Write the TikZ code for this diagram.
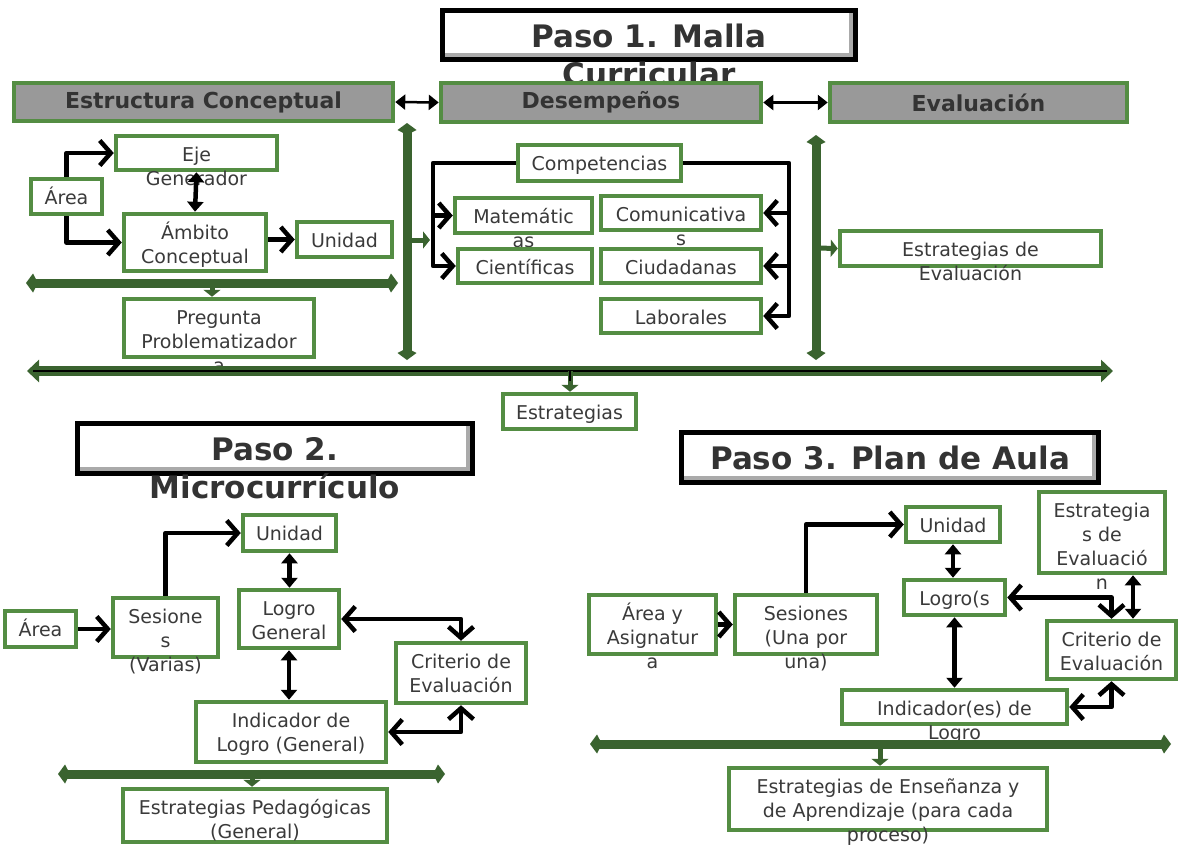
\documentclass[tikz,border=0pt]{standalone}
\usepackage{fontspec}
\setmainfont{DejaVu Sans}
\usetikzlibrary{arrows.meta,calc}
\definecolor{bgreen}{RGB}{84,141,67}
\definecolor{agreen}{RGB}{58,99,47}
\definecolor{hgray}{RGB}{153,153,153}
\definecolor{tgray}{RGB}{58,58,58}
\definecolor{bevel}{RGB}{170,170,170}
\tikzset{
  gbox/.style={draw=bgreen, line width=4.5pt, fill=white, inner sep=0pt},
  hbox/.style={draw=bgreen, line width=4.5pt, fill=hgray, inner sep=0pt,
    font=\fontsize{22}{26}\selectfont\bfseries, text=black!80},
  gtxt/.style={inner sep=0pt, align=center, text=tgray, font=\fontsize{19}{24}\selectfont},
  ttxt/.style={inner sep=0pt, align=center, text=black!80, font=\fontsize{31}{38}\selectfont\bfseries},
  tbox/.style={draw=black, line width=5pt, fill=white, inner sep=0pt},
  chev/.tip={Straight Barb[length=11pt,width=25pt]},
  tri/.tip={Triangle[length=10pt,width=16pt]},
  kt/.tip={Kite[length=12pt,width=19pt,inset=5pt]},
  blk/.style={draw=black, line width=4.5pt, line join=round},
  hline/.style={draw=black, line width=2.5pt, {Triangle[length=10pt,width=15pt]}-{Triangle[length=10pt,width=15pt]}},
  gline/.style={draw=agreen, line width=9pt, kt-kt},
  gbranch/.style={draw=agreen, line width=5pt, -{Triangle[length=7pt,width=17pt]}},
}
\newcommand{\gbx}[6]{%
  \node[gbox, minimum width={#4-#2-4}, minimum height={#5-#3-4}] (#1) at ({(#2+#4)/2},{(#3+#5)/2}) {};
  \node[gtxt, anchor=north] (#1-t) at ({(#2+#4)/2},{#3+10}) {\strut #6};
}
\newcommand{\hbx}[6]{%
  \node[hbox, minimum width={#4-#2-4}, minimum height={#5-#3-4}] (#1) at ({(#2+#4)/2},{(#3+#5)/2}) {#6};
}
\newcommand{\tbx}[6]{%
  \node[tbox, minimum width={#4-#2-5}, minimum height={#5-#3-5}] (#1) at ({(#2+#4)/2},{(#3+#5)/2}) {};
  \fill[bevel] (#2+5,#5-9) rectangle (#4-5,#5-5);
  \fill[bevel] (#4-9,#3+5) rectangle (#4-5,#5-5);
  \node[ttxt, anchor=north] (#1-t) at ({(#2+#4)/2},{#3+12.4}) {\strut #6};
}
\begin{document}
\begin{tikzpicture}[x=1pt, y=-1pt]
\useasboundingbox (0,0) rectangle (1180,846);
\fill[white] (0,0) rectangle (1180,846);

% ---------------- Paso 1 ----------------
\tbx{t1}{440}{8}{858}{62}{Paso 1. Malla\\Curricular}
\hbx{hEC}{12}{81}{395}{123}{Estructura Conceptual}
\hbx{hDE}{439}{81}{763}{124}{Desempeños}
\hbx{hEV}{828}{81}{1129}{124}{Evaluación}

\gbx{eje}{114}{134}{279}{172}{Eje\\Generador}
\gbx{area1}{29}{177}{104}{216}{Área}
\gbx{ambito}{122}{212}{268}{273}{Ámbito\\Conceptual}
\gbx{unidad1}{295}{220}{394}{259}{Unidad}
\gbx{preg}{122}{297}{316}{359}{Pregunta\\Problematizador\\a}

\gbx{comp}{516}{143}{683}{183}{Competencias}
\gbx{mat}{453}{196}{594}{235}{Matemátic\\as}
\gbx{cie}{456}{247}{594}{285}{Científicas}
\gbx{com}{599}{194}{763}{232}{Comunicativa\\s}
\gbx{ciu}{599}{247}{763}{285}{Ciudadanas}
\gbx{lab}{599}{297}{763}{335}{Laborales}

\gbx{estEv}{838}{229}{1103}{268}{Estrategias de\\Evaluación}
\gbx{estr}{501}{392}{638}{431}{Estrategias}

\draw[hline] (hEC.east) -- (hDE.west);
\draw[hline] (hDE.east) -- (hEV.west);

\draw[blk, -chev] (area1.north) |- (eje.west);
\draw[blk, -chev] (area1.south) |- (ambito.west);
\draw[blk, tri-tri] (eje.south) -- (ambito.north);
\draw[blk, -chev] (ambito.east |- unidad1.west) -- (unidad1.west);

\coordinate (cl) at (433,0);
\coordinate (cr) at (789,0);
\draw[blk, -chev] (comp.west) -| (cl |- cie.west) -- (cie.west);
\draw[blk, -chev] (cl |- mat.west) -- (mat.west);
\draw[blk, -chev] (comp.east) -| (cr |- lab.east) -- (lab.east);
\draw[blk, -chev] (cr |- com.east) -- (com.east);
\draw[blk, -chev] (cr |- ciu.east) -- (ciu.east);

\coordinate (g1a) at (26,283);
\coordinate (g1b) at (398,283);
\coordinate (g1m) at (212,283);
\draw[gline] (g1a) -- (g1b);
\draw[gbranch] (g1m) -- (g1m |- preg.north);

\coordinate (v1a) at (407,123);
\coordinate (v1b) at (407,360);
\coordinate (v1m) at (407,240);
\coordinate (v1e) at (430,240);
\draw[gline] (v1a) -- (v1b);
\draw[gbranch] (v1m) -- (v1e);

\coordinate (v2a) at (816,135);
\coordinate (v2b) at (816,360);
\coordinate (v2m) at (816,248);
\draw[gline] (v2a) -- (v2b);
\draw[gbranch] (v2m) -- (estEv.west);

\coordinate (b1a) at (27,371);
\coordinate (b1b) at (1113,371);
\coordinate (b1m) at (570,371);
\draw[draw=agreen, line width=10pt, {Triangle[length=12pt,width=22pt]}-{Triangle[length=12pt,width=22pt]}] (b1a) -- (b1b);
\draw[black, line width=2pt, shorten <=6pt, shorten >=6pt] (b1a) -- (b1b);
\draw[gbranch] (b1m) -- (b1m |- estr.north);
\draw[black, line width=1.5pt] (b1m) -- ([yshift=-10pt]b1m);

% ---------------- Paso 2 ----------------
\tbx{t2}{75}{421}{475}{476}{Paso 2.\\Microcurrículo}
\gbx{unidad2}{241}{513}{338}{553}{Unidad}
\gbx{area2}{3}{609}{78}{649}{Área}
\gbx{ses2}{111}{596}{220}{659}{Sesione\\s\\(Varias)}
\gbx{logro2}{237}{588}{341}{650}{Logro\\General}
\gbx{crit2}{394}{641}{528}{705}{Criterio de\\Evaluación}
\gbx{ind2}{194}{700}{388}{764}{Indicador de\\Logro (General)}
\gbx{estp}{121}{787}{389}{844}{Estrategias Pedagógicas\\(General)}

\draw[blk, -chev] (area2.east) -- (ses2.west |- area2.east);
\draw[blk, -chev] (ses2.north) |- (unidad2.west);
\draw[blk, tri-tri] (unidad2.south) -- (unidad2.south |- logro2.north);
\draw[blk, tri-tri] (logro2.south) -- (logro2.south |- ind2.north);
\draw[blk, chev-chev] (logro2.east) -| (crit2.north);
\draw[blk, chev-chev] (crit2.south) |- (ind2.east);

\coordinate (g2a) at (58,774);
\coordinate (g2b) at (445,774);
\coordinate (g2m) at (252,774);
\draw[gline] (g2a) -- (g2b);
\draw[gbranch] (g2m) -- (g2m |- estp.north);

% ---------------- Paso 3 ----------------
\tbx{t3}{679}{430}{1101}{485}{Paso 3. Plan de Aula}
\gbx{areaA}{587}{593}{718}{656}{Área y\\Asignatur\\a}
\gbx{ses3}{733}{593}{879}{656}{Sesiones\\(Una por\\una)}
\gbx{unidad3}{904}{505}{1002}{544}{Unidad}
\gbx{logro3}{902}{578}{1007}{617}{Logro(s}
\gbx{estEv3}{1037}{490}{1167}{575}{Estrategia\\s de\\Evaluació\\n}
\gbx{crit3}{1045}{619}{1178}{681}{Criterio de\\Evaluación}
\gbx{ind3}{840}{688}{1069}{726}{Indicador(es) de\\Logro}
\gbx{estEA}{727}{766}{1049}{832}{Estrategias de Enseñanza y\\de Aprendizaje (para cada\\proceso)}

\draw[blk, -chev] (areaA.east) -- (ses3.west |- areaA.east);
\draw[blk, -chev] (ses3.north) |- (unidad3.west);
\draw[blk, tri-tri] (unidad3.south) -- (unidad3.south |- logro3.north);
\draw[blk, tri-tri] (logro3.south) -- (logro3.south |- ind3.north);
\draw[blk, chev-chev] (logro3.east) -| (crit3.north);
\coordinate (e3x) at (1133,0);
\draw[blk, tri-tri] (e3x |- estEv3.south) -- (e3x |- crit3.north);
\draw[blk, chev-chev] (crit3.south) |- (ind3.east);

\coordinate (g3a) at (590,744);
\coordinate (g3b) at (1171,744);
\coordinate (g3m) at (880,744);
\draw[gline] (g3a) -- (g3b);
\draw[gbranch] (g3m) -- (g3m |- estEA.north);
\end{tikzpicture}
\end{document}
